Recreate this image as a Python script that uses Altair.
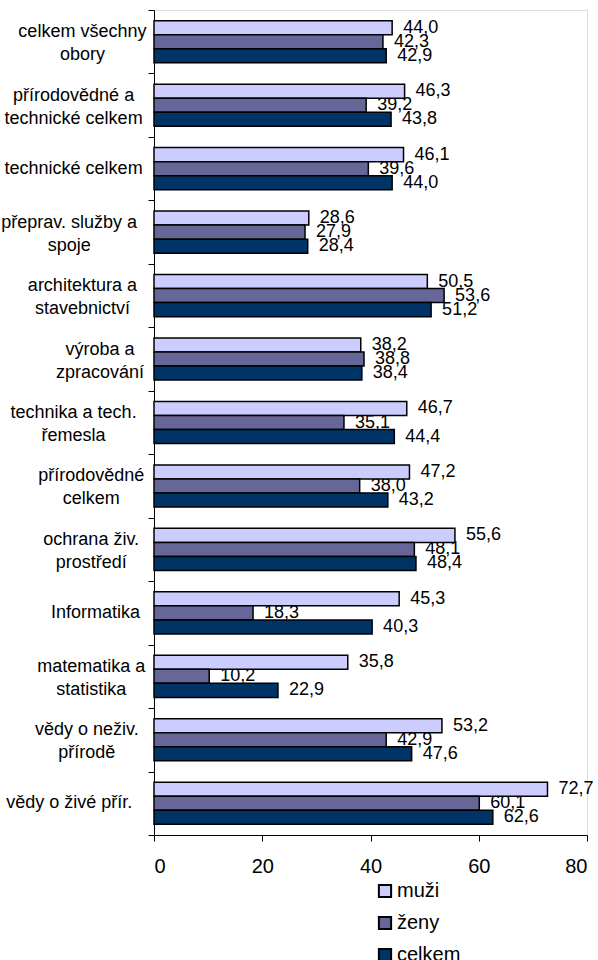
import altair as alt
import pandas as pd

categories = [
    "celkem všechny\nobory",
    "přírodovědné a\ntechnické celkem",
    "technické celkem",
    "přeprav. služby a\nspoje",
    "architektura a\nstavebnictví",
    "výroba a\nzpracování",
    "technika a tech.\nřemesla",
    "přírodovědné\ncelkem",
    "ochrana živ.\nprostředí",
    "Informatika",
    "matematika a\nstatistika",
    "vědy o neživ.\npřírodě",
    "vědy o živé přír.",
]
series_names = ["muži", "ženy", "celkem"]
muzi = [44.0, 46.3, 46.1, 28.6, 50.5, 38.2, 46.7, 47.2, 55.6, 45.3, 35.8, 53.2, 72.7]
zeny = [42.3, 39.2, 39.6, 27.9, 53.6, 38.8, 35.1, 38.0, 48.1, 18.3, 10.2, 42.9, 60.1]
celkem = [42.9, 43.8, 44.0, 28.4, 51.2, 38.4, 44.4, 43.2, 48.4, 40.3, 22.9, 47.6, 62.6]
colors = ["#CCCCFF", "#666699", "#003366"]

rows = []
for name, vals in zip(series_names, [muzi, zeny, celkem]):
    for c, v in zip(categories, vals):
        rows.append({"cat": c, "series": name, "value": v})
df = pd.DataFrame(rows)
cat_df = pd.DataFrame({"cat": categories})

FONT = "Liberation Sans"

y_enc = alt.Y(
    "cat:N",
    sort=categories,
    scale=alt.Scale(paddingInner=0, paddingOuter=0),
    axis=alt.Axis(
        labels=False, title=None, tickBand="extent", tickSize=6,
        tickColor="black", domainColor="black", ticks=True,
    ),
)
yoff = alt.YOffset(
    "series:N", sort=series_names,
    scale=alt.Scale(paddingInner=0, paddingOuter=0.76),
)

bars = alt.Chart(df).mark_bar(stroke="black", strokeWidth=1.5).encode(
    x=alt.X(
        "value:Q",
        scale=alt.Scale(domain=[0, 80], nice=False),
        axis=alt.Axis(
            values=[0, 20, 40, 60, 80], grid=False, title=None, tickSize=6,
            tickColor="black", domainColor="black", labelFontSize=20,
            labelFont=FONT, labelColor="black", labelPadding=15,
        ),
    ),
    y=y_enc,
    yOffset=yoff,
    fill=alt.Fill(
        "series:N",
        sort=series_names,
        scale=alt.Scale(domain=series_names, range=colors),
        legend=alt.Legend(
            title=None, orient="none", legendX=221, legendY=871,
            direction="vertical", symbolType="square", symbolSize=150,
            symbolStrokeColor="black", symbolStrokeWidth=2,
            labelFontSize=20, labelFont=FONT, labelColor="black",
            rowPadding=10, labelOffset=2,
        ),
    ),
)

value_labels = alt.Chart(df).transform_calculate(
    lab="replace(format(datum.value, '.1f'), '.', ',')"
).mark_text(
    align="left", baseline="middle", dx=11, fontSize=18, font=FONT, color="black"
).encode(
    x="value:Q",
    y=alt.Y("cat:N", sort=categories),
    yOffset=yoff,
    text="lab:N",
)

cat_labels = alt.Chart(cat_df).mark_text(
    align="center", baseline="middle", lineBreak="\n", fontSize=18,
    lineHeight=23, font=FONT, color="black",
    dx=alt.expr(
        "-4.4*max(length(split(datum.cat,'\\n')[0]), length(split(datum.cat,'\\n')[1] || ''))"
    ),
    dy=alt.expr("-9.5*(length(split(datum.cat,'\\n'))-1)"),
).encode(
    x=alt.value(-10),
    y=alt.Y("cat:N", sort=categories),
    text="cat:N",
)

chart = alt.layer(value_labels, bars, cat_labels).properties(
    width=433, height=825,
    autosize=alt.AutoSizeParams(type="none"),
    padding={"left": 154, "top": 10, "right": 11, "bottom": 125},
).configure_view(stroke="#808080", strokeWidth=1).configure(background="white")

chart.save("out.html", embed_options={"renderer": "svg", "actions": False})
